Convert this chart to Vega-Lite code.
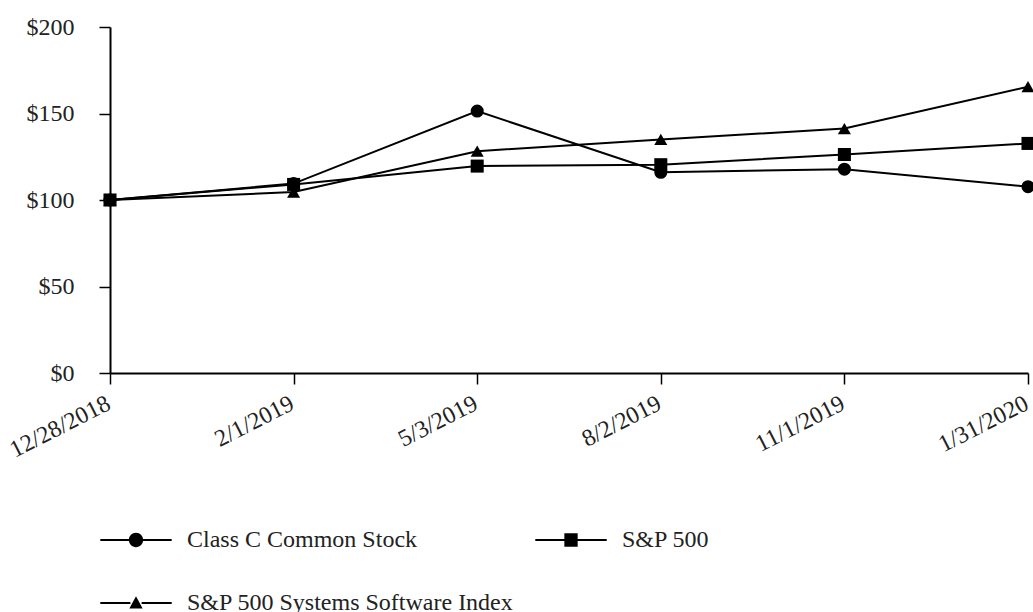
{
  "$schema": "https://vega.github.io/schema/vega-lite/v6.json",
  "width": 918,
  "height": 346,
  "autosize": "none",
  "padding": {"left": 110, "top": 27, "right": 5, "bottom": 239},
  "background": "white",
  "data": {
    "values": [
      {"date": "12/28/2018", "series": "Class C Common Stock", "value": 100},
      {"date": "2/1/2019", "series": "Class C Common Stock", "value": 109.5},
      {"date": "5/3/2019", "series": "Class C Common Stock", "value": 151.4},
      {"date": "8/2/2019", "series": "Class C Common Stock", "value": 116},
      {"date": "11/1/2019", "series": "Class C Common Stock", "value": 117.8},
      {"date": "1/31/2020", "series": "Class C Common Stock", "value": 107.7},
      {"date": "12/28/2018", "series": "S&P 500", "value": 100},
      {"date": "2/1/2019", "series": "S&P 500", "value": 109},
      {"date": "5/3/2019", "series": "S&P 500", "value": 119.6},
      {"date": "8/2/2019", "series": "S&P 500", "value": 120.4},
      {"date": "11/1/2019", "series": "S&P 500", "value": 126.3},
      {"date": "1/31/2020", "series": "S&P 500", "value": 132.7},
      {"date": "12/28/2018", "series": "S&P 500 Systems Software Index", "value": 100},
      {"date": "2/1/2019", "series": "S&P 500 Systems Software Index", "value": 104.6},
      {"date": "5/3/2019", "series": "S&P 500 Systems Software Index", "value": 128.2},
      {"date": "8/2/2019", "series": "S&P 500 Systems Software Index", "value": 135},
      {"date": "11/1/2019", "series": "S&P 500 Systems Software Index", "value": 141.3},
      {"date": "1/31/2020", "series": "S&P 500 Systems Software Index", "value": 165.5}
    ]
  },
  "encoding": {
    "x": {
      "field": "date",
      "type": "ordinal",
      "sort": ["12/28/2018", "2/1/2019", "5/3/2019", "8/2/2019", "11/1/2019", "1/31/2020"],
      "scale": {"type": "point", "padding": 0},
      "axis": {
        "title": null,
        "labelAngle": -27,
        "labelAlign": "right",
        "labelBaseline": "top",
        "labelFontSize": 24,
        "labelFont": "Liberation Serif",
        "labelColor": "#222",
        "labelPadding": 7,
        "labelOffset": -7,
        "labelOverlap": false,
        "labelBound": false,
        "tickSize": 11,
        "tickColor": "black",
        "tickWidth": 1.5,
        "domainColor": "black",
        "domainWidth": 2,
        "grid": false
      }
    },
    "y": {
      "field": "value",
      "type": "quantitative",
      "scale": {"domain": [0, 200], "nice": false},
      "axis": {
        "title": null,
        "values": [0, 50, 100, 150, 200],
        "labelExpr": "'$' + datum.value",
        "labelFontSize": 24,
        "labelFont": "Liberation Serif",
        "labelColor": "#222",
        "labelPadding": 25,
        "tickSize": 11,
        "tickColor": "black",
        "tickWidth": 1.5,
        "domainColor": "black",
        "domainWidth": 2,
        "grid": false
      }
    }
  },
  "layer": [
    {
      "mark": {"type": "line", "color": "black", "strokeWidth": 2},
      "encoding": {"detail": {"field": "series"}}
    },
    {
      "mark": {"type": "point", "filled": true, "color": "black", "opacity": 1, "size": 170},
      "encoding": {
        "shape": {
          "field": "series",
          "type": "nominal",
          "scale": {
            "domain": ["Class C Common Stock", "S&P 500", "S&P 500 Systems Software Index"],
            "range": ["circle", "square", "triangle-up"]
          },
          "legend": null
        }
      }
    },
    {
      "mark": {"type": "point", "filled": true, "fill": "black", "stroke": "black", "strokeWidth": 0.5, "opacity": 0, "size": 196},
      "encoding": {
        "shape": {
          "field": "series",
          "type": "nominal",
          "scale": {
            "domain": ["Class C Common Stock", "S&P 500", "S&P 500 Systems Software Index"],
            "range": [
              "M-5.1,-0.16H-0.8V0.16H-5.1ZM0.8,-0.16H5.1V0.16H0.8ZM-1.02,0A1.02,1.02 0 1,1 1.02,0A1.02,1.02 0 1,1 -1.02,0Z",
              "M-5.1,-0.16H-0.8V0.16H-5.1ZM0.8,-0.16H5.1V0.16H0.8ZM-0.95,-0.95H0.95V0.95H-0.95Z",
              "M-5.1,-0.16H-0.8V0.16H-5.1ZM0.8,-0.16H5.1V0.16H0.8ZM0,-0.95L0.95,0.8H-0.95Z"
            ]
          },
          "legend": {
            "title": null,
            "orient": "none",
            "legendX": 14,
            "legendY": 501,
            "direction": "horizontal",
            "columns": 2,
            "columnPadding": 20,
            "rowPadding": 39,
            "padding": 0,
            "labelFont": "Liberation Serif",
            "labelFontSize": 24,
            "labelColor": "#222",
            "labelOffset": 39,
            "labelLimit": 500,
            "symbolSize": 196,
            "symbolFillColor": "black",
            "symbolStrokeColor": "black",
            "symbolStrokeWidth": 0.5,
            "symbolOpacity": 1
          }
        }
      }
    }
  ],
  "resolve": {"scale": {"shape": "independent"}, "legend": {"shape": "independent"}},
  "config": {"view": {"stroke": null}, "font": "Liberation Serif"}
}
